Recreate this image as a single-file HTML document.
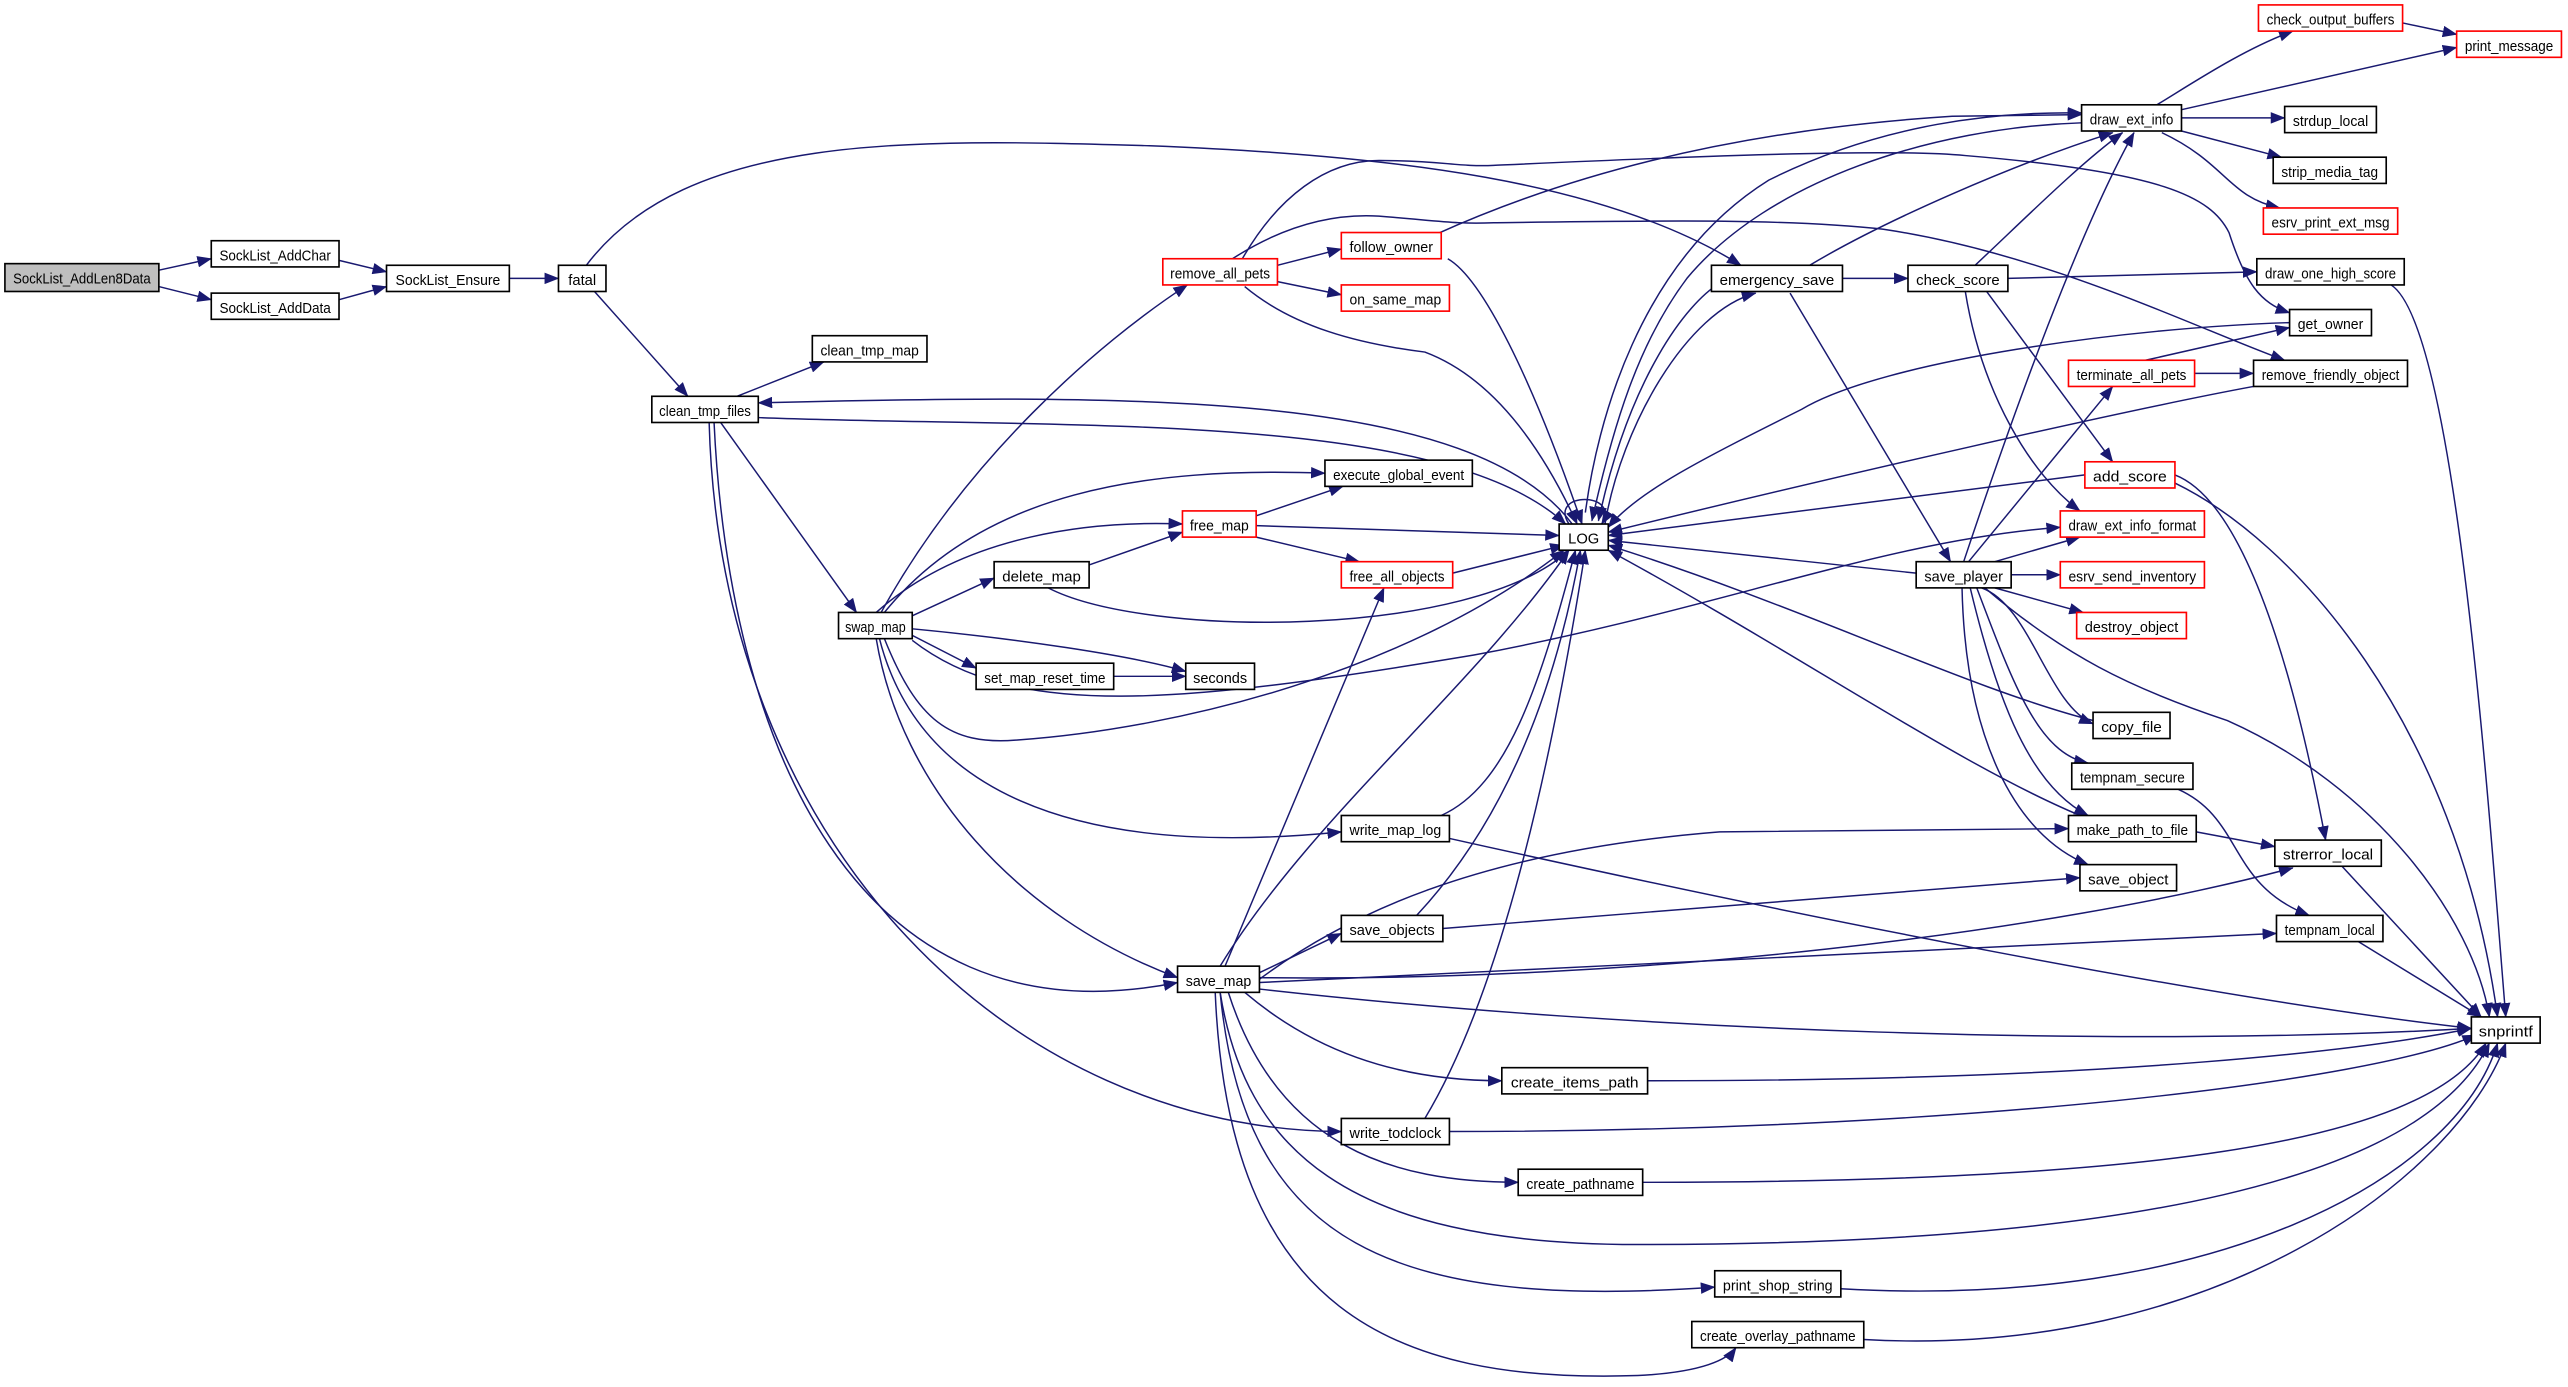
<!DOCTYPE html>
<html><head><meta charset="utf-8"><style>
html,body{margin:0;padding:0;background:#fff;}
svg{display:block;}
text{font-family:"Liberation Sans",sans-serif;font-size:9px;fill:#000;}
</style></head><body>
<svg width="2568" height="1387" viewBox="0 0 1568 847" preserveAspectRatio="none" xmlns="http://www.w3.org/2000/svg">
<defs>
<marker id="a" markerUnits="userSpaceOnUse" markerWidth="9" markerHeight="7" refX="8.5" refY="3.5" orient="auto">
<path d="M0,0 L9,3.5 L0,7 z" fill="#191970"/>
</marker>
</defs>
<g fill="none" stroke="#191970" stroke-width="0.9" marker-end="url(#a)">
<path d="M97,165 L129,158"/>
<path d="M97,175 L129,183"/>
<path d="M207,159 L236,166"/>
<path d="M207,183 L236,175"/>
<path d="M311,170 L341,170"/>
<path d="M358,162 C420,80 560,85 702,89 C850,95 980,110 1063,162"/>
<path d="M363,178 L420,242"/>
<path d="M450,242 L503,221"/>
<path d="M960,320 C900,240 700,240 463,246"/>
<path d="M463,255 C650,262 880,250 956,320"/>
<path d="M440,258 L523,374"/>
<path d="M436,258 C445,450 520,640 719,600"/>
<path d="M433,258 C440,520 620,690 819,691"/>
<path d="M538,374 C590,280 670,210 725,174"/>
<path d="M540,374 C600,300 700,285 809,289"/>
<path d="M535,374 C590,325 670,318 722,320"/>
<path d="M555,377 L607,353"/>
<path d="M540,390 C560,440 580,455 620,452 C720,445 860,410 955,336"/>
<path d="M557,391 C620,440 720,430 900,400 C1050,372 1150,330 1258,322"/>
<path d="M557,388 L596,408"/>
<path d="M557,384 C620,390 690,400 724,410"/>
<path d="M537,390 C560,480 650,525 819,508"/>
<path d="M535,390 C550,480 620,560 719,597"/>
<path d="M680,413 L724,413"/>
<path d="M665,345 L722,325"/>
<path d="M640,359 C700,390 900,390 958,336"/>
<path d="M767,315 L820,297"/>
<path d="M767,321 L952,327"/>
<path d="M767,328 L830,343"/>
<path d="M887,350 L955,333"/>
<path d="M780,162 L819,152"/>
<path d="M780,172 L819,180"/>
<path d="M760,175 C790,200 830,210 870,215 C910,230 940,270 963,320"/>
<path d="M758,159 C780,120 810,98 842,98 C880,98 890,102 912,101 C1000,97 1150,90 1200,95 C1320,105 1350,120 1361,142 C1371,173 1380,185 1398,191"/>
<path d="M751,159 C780,140 810,130 842,132 C880,135 890,137 912,136 C1000,135 1087,133 1150,140 C1250,155 1340,200 1395,220"/>
<path d="M884,158 C905,170 935,230 966,320"/>
<path d="M877,143 C950,110 1050,80 1192,71 L1271,70"/>
<path d="M968,313 C975,260 1000,160 1080,110 C1150,75 1220,68 1271,69"/>
<path d="M1271,75 C1180,78 1080,110 1030,170 C1000,210 985,260 972,318"/>
<path d="M1050,173 C1030,185 995,230 976,318"/>
<path d="M980,320 C990,260 1030,190 1072,179"/>
<path d="M1105,162 C1150,135 1230,100 1290,81"/>
<path d="M1206,162 C1240,130 1270,100 1296,81"/>
<path d="M1199,343 C1230,250 1270,140 1303,81"/>
<path d="M1125,170 L1165,170"/>
<path d="M1093,179 L1191,343"/>
<path d="M1226,170 L1378,166"/>
<path d="M1213,178 L1290,282"/>
<path d="M1200,178 C1210,240 1240,290 1270,312"/>
<path d="M1398,197 C1300,200 1150,220 1100,250 C1040,280 1000,300 982,322"/>
<path d="M1376,236 C1300,250 1120,291 982,325"/>
<path d="M1273,290 L982,327"/>
<path d="M1170,350 L982,330"/>
<path d="M1310,220 L1398,200"/>
<path d="M1340,228 L1376,228"/>
<path d="M1202,343 L1290,236"/>
<path d="M1218,343 L1270,328"/>
<path d="M1228,351 L1258,351"/>
<path d="M1218,359 L1272,374"/>
<path d="M1210,359 C1240,370 1250,430 1278,442"/>
<path d="M1207,359 C1230,420 1245,460 1275,466"/>
<path d="M1203,359 C1220,430 1240,480 1275,498"/>
<path d="M1198,359 C1200,450 1230,510 1275,528"/>
<path d="M1212,359 C1260,400 1300,420 1360,440 C1450,480 1510,560 1520,621"/>
<path d="M1278,440 C1200,420 1100,370 982,333"/>
<path d="M1275,500 C1200,470 1100,400 982,336"/>
<path d="M881,567 L1270,536"/>
<path d="M769,597 C1000,600 1250,570 1400,530"/>
<path d="M769,600 L1390,570"/>
<path d="M769,604 C1000,630 1300,640 1509,628"/>
<path d="M769,598 C820,560 900,520 1050,508 L1263,506"/>
<path d="M1330,482 C1370,500 1360,540 1410,559"/>
<path d="M1341,508 L1389,517"/>
<path d="M1328,290 C1380,310 1410,460 1420,513"/>
<path d="M1328,295 C1400,330 1500,440 1525,621"/>
<path d="M1460,174 C1500,200 1520,500 1530,621"/>
<path d="M1430,529 L1515,621"/>
<path d="M1440,575 L1515,621"/>
<path d="M1006,660 C1300,660 1450,640 1509,628"/>
<path d="M885,691 C1200,691 1450,660 1512,632"/>
<path d="M1003,722 C1300,722 1480,700 1518,637"/>
<path d="M745,606 C760,700 820,760 1000,760 C1300,760 1480,720 1520,637"/>
<path d="M1124,787 C1350,800 1500,720 1525,637"/>
<path d="M1138,818 C1350,830 1500,720 1530,637"/>
<path d="M885,512 C1100,560 1350,610 1509,628"/>
<path d="M880,498 C920,480 940,420 962,336"/>
<path d="M865,559 C920,500 950,420 965,336"/>
<path d="M870,683 C920,600 950,450 968,336"/>
<path d="M745,590 C800,500 900,420 958,336"/>
<path d="M748,590 L845,359"/>
<path d="M769,594 L819,570"/>
<path d="M760,606 C800,640 850,660 917,660"/>
<path d="M750,606 C780,700 850,722 927,722"/>
<path d="M745,606 C760,760 850,800 1047,786"/>
<path d="M742,606 C750,800 850,845 1000,840 C1040,838 1055,830 1060,823"/>
<path d="M958,320 C945,300 990,300 978,320"/>
<path d="M1467,14 L1500,21"/>
<path d="M1332,67 L1500,29"/>
<path d="M1317,64 C1340,50 1370,30 1400,19"/>
<path d="M1332,72 L1395,72"/>
<path d="M1332,80 L1393,96"/>
<path d="M1320,81 C1360,100 1360,120 1392,127"/>
</g>
<g stroke-width="1">
<rect x="3" y="161" width="94" height="17" fill="#bfbfbf" stroke="#000"/><text x="50" y="173" text-anchor="middle" textLength="84" lengthAdjust="spacingAndGlyphs">SockList_AddLen8Data</text>
<rect x="129" y="147" width="78" height="16" fill="#fff" stroke="#000"/><text x="168" y="159" text-anchor="middle" textLength="68" lengthAdjust="spacingAndGlyphs">SockList_AddChar</text>
<rect x="129" y="179" width="78" height="16" fill="#fff" stroke="#000"/><text x="168" y="191" text-anchor="middle" textLength="68" lengthAdjust="spacingAndGlyphs">SockList_AddData</text>
<rect x="236" y="162" width="75" height="16" fill="#fff" stroke="#000"/><text x="273.5" y="174" text-anchor="middle" textLength="64" lengthAdjust="spacingAndGlyphs">SockList_Ensure</text>
<rect x="341" y="162" width="29" height="16" fill="#fff" stroke="#000"/><text x="355.5" y="174" text-anchor="middle">fatal</text>
<rect x="496" y="205" width="70" height="16" fill="#fff" stroke="#000"/><text x="531" y="217" text-anchor="middle" textLength="60" lengthAdjust="spacingAndGlyphs">clean_tmp_map</text>
<rect x="398" y="242" width="65" height="16" fill="#fff" stroke="#000"/><text x="430.5" y="254" text-anchor="middle" textLength="56" lengthAdjust="spacingAndGlyphs">clean_tmp_files</text>
<rect x="512" y="374" width="45" height="16" fill="#fff" stroke="#000"/><text x="534.5" y="386" text-anchor="middle" textLength="37" lengthAdjust="spacingAndGlyphs">swap_map</text>
<rect x="710" y="158" width="70" height="16" fill="#fff" stroke="#f00"/><text x="745" y="170" text-anchor="middle" textLength="61" lengthAdjust="spacingAndGlyphs">remove_all_pets</text>
<rect x="819" y="142" width="61" height="16" fill="#fff" stroke="#f00"/><text x="849.5" y="154" text-anchor="middle" textLength="51" lengthAdjust="spacingAndGlyphs">follow_owner</text>
<rect x="819" y="174" width="66" height="16" fill="#fff" stroke="#f00"/><text x="852" y="186" text-anchor="middle" textLength="56" lengthAdjust="spacingAndGlyphs">on_same_map</text>
<rect x="809" y="281" width="90" height="16" fill="#fff" stroke="#000"/><text x="854" y="293" text-anchor="middle" textLength="80" lengthAdjust="spacingAndGlyphs">execute_global_event</text>
<rect x="722" y="312" width="45" height="16" fill="#fff" stroke="#f00"/><text x="744.5" y="324" text-anchor="middle" textLength="36" lengthAdjust="spacingAndGlyphs">free_map</text>
<rect x="607" y="343" width="58" height="16" fill="#fff" stroke="#000"/><text x="636" y="355" text-anchor="middle" textLength="48" lengthAdjust="spacingAndGlyphs">delete_map</text>
<rect x="819" y="343" width="68" height="16" fill="#fff" stroke="#f00"/><text x="853" y="355" text-anchor="middle" textLength="58" lengthAdjust="spacingAndGlyphs">free_all_objects</text>
<rect x="596" y="405" width="84" height="16" fill="#fff" stroke="#000"/><text x="638" y="417" text-anchor="middle" textLength="74" lengthAdjust="spacingAndGlyphs">set_map_reset_time</text>
<rect x="724" y="405" width="42" height="16" fill="#fff" stroke="#000"/><text x="745" y="417" text-anchor="middle" textLength="33" lengthAdjust="spacingAndGlyphs">seconds</text>
<rect x="952" y="320" width="30" height="16" fill="#fff" stroke="#000"/><text x="967" y="332" text-anchor="middle">LOG</text>
<rect x="819" y="498" width="66" height="16" fill="#fff" stroke="#000"/><text x="852" y="510" text-anchor="middle" textLength="56" lengthAdjust="spacingAndGlyphs">write_map_log</text>
<rect x="719" y="590" width="50" height="16" fill="#fff" stroke="#000"/><text x="744" y="602" text-anchor="middle" textLength="40" lengthAdjust="spacingAndGlyphs">save_map</text>
<rect x="819" y="559" width="62" height="16" fill="#fff" stroke="#000"/><text x="850" y="571" text-anchor="middle" textLength="52" lengthAdjust="spacingAndGlyphs">save_objects</text>
<rect x="917" y="652" width="89" height="16" fill="#fff" stroke="#000"/><text x="961.5" y="664" text-anchor="middle" textLength="78" lengthAdjust="spacingAndGlyphs">create_items_path</text>
<rect x="819" y="683" width="66" height="16" fill="#fff" stroke="#000"/><text x="852" y="695" text-anchor="middle" textLength="56" lengthAdjust="spacingAndGlyphs">write_todclock</text>
<rect x="927" y="714" width="76" height="16" fill="#fff" stroke="#000"/><text x="965" y="726" text-anchor="middle" textLength="66" lengthAdjust="spacingAndGlyphs">create_pathname</text>
<rect x="1047" y="776" width="77" height="16" fill="#fff" stroke="#000"/><text x="1085.5" y="788" text-anchor="middle" textLength="67" lengthAdjust="spacingAndGlyphs">print_shop_string</text>
<rect x="1033" y="807" width="105" height="16" fill="#fff" stroke="#000"/><text x="1085.5" y="819" text-anchor="middle" textLength="95" lengthAdjust="spacingAndGlyphs">create_overlay_pathname</text>
<rect x="1045" y="162" width="80" height="16" fill="#fff" stroke="#000"/><text x="1085" y="174" text-anchor="middle" textLength="70" lengthAdjust="spacingAndGlyphs">emergency_save</text>
<rect x="1165" y="162" width="61" height="16" fill="#fff" stroke="#000"/><text x="1195.5" y="174" text-anchor="middle" textLength="51" lengthAdjust="spacingAndGlyphs">check_score</text>
<rect x="1271" y="64" width="61" height="16" fill="#fff" stroke="#000"/><text x="1301.5" y="76" text-anchor="middle" textLength="51" lengthAdjust="spacingAndGlyphs">draw_ext_info</text>
<rect x="1379" y="3" width="88" height="16" fill="#fff" stroke="#f00"/><text x="1423" y="15" text-anchor="middle" textLength="78" lengthAdjust="spacingAndGlyphs">check_output_buffers</text>
<rect x="1500" y="19" width="64" height="16" fill="#fff" stroke="#f00"/><text x="1532" y="31" text-anchor="middle" textLength="54" lengthAdjust="spacingAndGlyphs">print_message</text>
<rect x="1395" y="65" width="56" height="16" fill="#fff" stroke="#000"/><text x="1423" y="77" text-anchor="middle" textLength="46" lengthAdjust="spacingAndGlyphs">strdup_local</text>
<rect x="1388" y="96" width="69" height="16" fill="#fff" stroke="#000"/><text x="1422.5" y="108" text-anchor="middle" textLength="59" lengthAdjust="spacingAndGlyphs">strip_media_tag</text>
<rect x="1382" y="127" width="82" height="16" fill="#fff" stroke="#f00"/><text x="1423" y="139" text-anchor="middle" textLength="72" lengthAdjust="spacingAndGlyphs">esrv_print_ext_msg</text>
<rect x="1378" y="158" width="90" height="16" fill="#fff" stroke="#000"/><text x="1423" y="170" text-anchor="middle" textLength="80" lengthAdjust="spacingAndGlyphs">draw_one_high_score</text>
<rect x="1398" y="189" width="50" height="16" fill="#fff" stroke="#000"/><text x="1423" y="201" text-anchor="middle" textLength="40" lengthAdjust="spacingAndGlyphs">get_owner</text>
<rect x="1263" y="220" width="77" height="16" fill="#fff" stroke="#f00"/><text x="1301.5" y="232" text-anchor="middle" textLength="67" lengthAdjust="spacingAndGlyphs">terminate_all_pets</text>
<rect x="1376" y="220" width="94" height="16" fill="#fff" stroke="#000"/><text x="1423" y="232" text-anchor="middle" textLength="84" lengthAdjust="spacingAndGlyphs">remove_friendly_object</text>
<rect x="1273" y="282" width="55" height="16" fill="#fff" stroke="#f00"/><text x="1300.5" y="294" text-anchor="middle" textLength="45" lengthAdjust="spacingAndGlyphs">add_score</text>
<rect x="1258" y="312" width="88" height="16" fill="#fff" stroke="#f00"/><text x="1302" y="324" text-anchor="middle" textLength="78" lengthAdjust="spacingAndGlyphs">draw_ext_info_format</text>
<rect x="1170" y="343" width="58" height="16" fill="#fff" stroke="#000"/><text x="1199" y="355" text-anchor="middle" textLength="48" lengthAdjust="spacingAndGlyphs">save_player</text>
<rect x="1258" y="343" width="88" height="16" fill="#fff" stroke="#f00"/><text x="1302" y="355" text-anchor="middle" textLength="78" lengthAdjust="spacingAndGlyphs">esrv_send_inventory</text>
<rect x="1268" y="374" width="67" height="16" fill="#fff" stroke="#f00"/><text x="1301.5" y="386" text-anchor="middle" textLength="57" lengthAdjust="spacingAndGlyphs">destroy_object</text>
<rect x="1278" y="435" width="47" height="16" fill="#fff" stroke="#000"/><text x="1301.5" y="447" text-anchor="middle" textLength="37" lengthAdjust="spacingAndGlyphs">copy_file</text>
<rect x="1265" y="466" width="74" height="16" fill="#fff" stroke="#000"/><text x="1302" y="478" text-anchor="middle" textLength="64" lengthAdjust="spacingAndGlyphs">tempnam_secure</text>
<rect x="1263" y="498" width="78" height="16" fill="#fff" stroke="#000"/><text x="1302" y="510" text-anchor="middle" textLength="68" lengthAdjust="spacingAndGlyphs">make_path_to_file</text>
<rect x="1270" y="528" width="59" height="16" fill="#fff" stroke="#000"/><text x="1299.5" y="540" text-anchor="middle" textLength="49" lengthAdjust="spacingAndGlyphs">save_object</text>
<rect x="1389" y="513" width="65" height="16" fill="#fff" stroke="#000"/><text x="1421.5" y="525" text-anchor="middle" textLength="55" lengthAdjust="spacingAndGlyphs">strerror_local</text>
<rect x="1390" y="559" width="65" height="16" fill="#fff" stroke="#000"/><text x="1422.5" y="571" text-anchor="middle" textLength="55" lengthAdjust="spacingAndGlyphs">tempnam_local</text>
<rect x="1509" y="621" width="42" height="16" fill="#fff" stroke="#000"/><text x="1530" y="633" text-anchor="middle" textLength="33" lengthAdjust="spacingAndGlyphs">snprintf</text>
</g>
</svg>
</body></html>
